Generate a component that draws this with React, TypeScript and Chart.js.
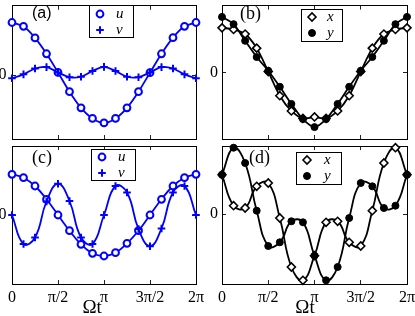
import React, { useEffect, useRef } from 'react';
import { Chart, registerables } from 'chart.js';
import { drawPoint } from 'chart.js/helpers';

Chart.register(...registerables);

// ---------- data ----------
const tValues = [0, 0.125, 0.25, 0.375, 0.5, 0.625, 0.75, 0.875, 1, 1.125, 1.25, 1.375, 1.5, 1.625, 1.75, 1.875, 2];
const xTickValues = [0, 0.5, 1, 1.5, 2];
const xTickLabels = ['0', 'π/2', 'π', '3π/2', '2π'];
const yTickValues = [0];
const yTickLabels = ['0'];
const xAxisTitle = 'Ωt';

const aU = [54.7, 50.7, 38.7, 22.3, 3, -17, -33.7, -44.7, -49.3, -44.7, -33.7, -17, 2.7, 22.3, 39, 50.7, 54.7];
const aV = [-3, 1, 7, 8.5, 3, -2, -1.5, 4.5, 8.7, 4.5, -1.5, -2, 3, 8.5, 7, 1, -3];
const bX = [46.7, 45, 40.3, 25.7, 1.5, -23.5, -39.3, -47, -45.5, -47, -39.3, -23.5, 1.5, 25.7, 40.3, 45, 46.7];
const bY = [58, 50.5, 33.3, 16.5, 2.3, -14.3, -32, -47.7, -56, -47.7, -32, -14.3, 2.3, 16.5, 33.3, 50.5, 58];
const cU = [40.7, 37.3, 29, 15.7, 0, -15.7, -29.3, -38.3, -41, -37.7, -28.3, -15.7, 0, 15.7, 29, 37.3, 40.7];
const cV = [0, -29, -22.5, 13.5, 31.3, 14, -22.5, -29, 0, 29, 22.5, -14, -31.3, -13.5, 22.5, 29, 0];
const dX = [39.3, 8.3, 6, 27.7, 31, -4, -53, -66.3, -41.7, -8.3, -7.3, -28.3, -32, 3.3, 51, 66.3, 39.3];
const dY = [39.3, 66.3, 51, 3.3, -32, -28.3, -7.3, -8.3, -41.7, -66.3, -53, -4, 31, 27.7, 6, 8.3, 39.3];

const panelLabels = ['(a)', '(b)', '(c)', '(d)'];
const seriesNamesUV = ['u', 'v'];
const seriesNamesXY = ['x', 'y'];

// ---------- styling ----------
const W = 415;
const H = 316;
const SERIF = "'Liberation Serif', 'DejaVu Serif', serif";
const SANS = "'Liberation Sans', Arial, sans-serif";
const BLUE = '#0000ff';
const BLACK = '#000000';

const panelDecor = {
  id: 'panelDecor',
  afterDraw(chart: any, _args: any, opts: any) {
    const { ctx } = chart;
    ctx.save();
    ctx.fillStyle = BLACK;
    ctx.textBaseline = 'middle';
    ctx.textAlign = 'left';
    ctx.font = opts.labelFont;
    ctx.fillText(opts.label, opts.labelX, opts.labelY);
    const b = opts.box;
    ctx.fillStyle = '#ffffff';
    ctx.fillRect(b.x, b.y, b.w, b.h);
    ctx.strokeStyle = BLACK;
    ctx.lineWidth = 1;
    ctx.strokeRect(b.x + 0.5, b.y + 0.5, b.w, b.h);
    opts.entries.forEach((idx: number, i: number) => {
      const ds = chart.data.datasets[idx];
      const ry = b.y + opts.rowY[i];
      ctx.fillStyle = ds.pointBackgroundColor;
      ctx.strokeStyle = ds.pointBorderColor;
      ctx.lineWidth = ds.pointBorderWidth;
      drawPoint(ctx, { pointStyle: ds.pointStyle, radius: ds.pointRadius, borderWidth: ds.pointBorderWidth, rotation: 0 }, b.x + opts.markerDX, ry);
      ctx.fillStyle = BLACK;
      ctx.font = opts.textFont;
      ctx.textBaseline = 'middle';
      ctx.fillText(ds.label, b.x + opts.textDX, ry);
    });
    ctx.restore();
  },
};

type Series = { label: string; values: number[]; color: string; style: string; radius: number; bw: number; fill: string; order: number };

const zeroPad = (s: any) => {
  s.paddingTop = 0;
  s.paddingBottom = 0;
  s.paddingLeft = 0;
  s.paddingRight = 0;
};

function makeChart(canvas: HTMLCanvasElement, p: any) {
  const fixTicks = (vals: number[]) => (scale: any) => {
    scale.ticks = vals.map((v) => ({ value: v }));
  };
  const grid = { display: true, drawOnChartArea: false, drawTicks: true, tickLength: -4, color: '#222', lineWidth: 1 };
  const border = { display: true, color: BLACK, width: 1 };
  const a = p.area;
  const yW = p.yAxisW;
  return new Chart(canvas, {
    type: 'line',
    data: {
      datasets: p.series.map((s: Series) => ({
        label: s.label,
        data: tValues.map((t, i) => ({ x: t, y: s.values[i] })),
        borderColor: s.color,
        borderWidth: 1.8,
        tension: p.tension,
        fill: false,
        pointStyle: s.style,
        pointRadius: s.radius,
        pointHoverRadius: s.radius,
        pointBorderWidth: s.bw,
        pointBorderColor: s.color,
        pointBackgroundColor: s.fill,
        order: s.order,
        clip: false,
      })),
    },
    options: {
      responsive: false,
      animation: false,
      devicePixelRatio: 1,
      events: [],
      layout: { padding: { left: a.l - yW, top: a.t, right: W - a.r, bottom: p.showX ? 0 : H - a.b } },
      plugins: {
        legend: { display: false },
        tooltip: { enabled: false },
        panelDecor: p.decor,
      },
      scales: {
        x: {
          type: 'linear', position: 'bottom', min: 0, max: 2,
          afterBuildTicks: fixTicks(xTickValues),
          afterFit: (s: any) => { s.height = p.showX ? H - a.b : 0; zeroPad(s); },
          grid, border,
          ticks: { display: p.showX, padding: 8, color: BLACK, autoSkip: false, maxRotation: 0, font: { family: SERIF, size: 16 }, callback: (_v: any, i: number) => xTickLabels[i] },
          title: { display: p.showX, text: p.title, color: BLACK, font: { family: SERIF, size: 19, lineHeight: 0.8 }, padding: 0 },
        },
        x2: {
          type: 'linear', position: 'top', min: 0, max: 2,
          afterBuildTicks: fixTicks(xTickValues),
          afterFit: (s: any) => { s.height = 0; zeroPad(s); },
          grid, border,
          ticks: { display: false },
        },
        y: {
          type: 'linear', position: 'left', min: p.yMin, max: p.yMax,
          afterBuildTicks: fixTicks(yTickValues),
          afterFit: (s: any) => { s.width = yW; zeroPad(s); },
          grid, border,
          ticks: { display: true, padding: p.yPad, color: BLACK, autoSkip: false, font: { family: SERIF, size: 16 }, callback: (_v: any, i: number) => yTickLabels[i] },
        },
        y2: {
          type: 'linear', position: 'right', min: p.yMin, max: p.yMax,
          afterBuildTicks: fixTicks(yTickValues),
          afterFit: (s: any) => { s.width = 0; zeroPad(s); },
          grid, border,
          ticks: { display: false },
        },
      },
    } as any,
    plugins: [panelDecor as any],
  });
}

const uSeries = (vals: number[]): Series => ({ label: seriesNamesUV[0], values: vals, color: BLUE, style: 'circle', radius: 3.4, bw: 2, fill: '#ffffff', order: 1 });
const vSeries = (vals: number[]): Series => ({ label: seriesNamesUV[1], values: vals, color: BLUE, style: 'cross', radius: 3.8, bw: 2, fill: BLUE, order: 0 });
const xSeries = (vals: number[]): Series => ({ label: seriesNamesXY[0], values: vals, color: BLACK, style: 'rectRot', radius: 4, bw: 1.6, fill: '#ffffff', order: 1 });
const ySeries = (vals: number[]): Series => ({ label: seriesNamesXY[1], values: vals, color: BLACK, style: 'circle', radius: 3.5, bw: 1, fill: BLACK, order: 0 });

const legendFont = `italic 15px ${SERIF}`;

const panels = [
  {
    area: { l: 12, t: 1, r: 196, b: 139 }, yAxisW: 12, yMin: -66, yMax: 72, yPad: 9.5, showX: false, tension: 0.3,
    series: [uSeries(aU), vSeries(aV)], title: '',
    decor: { label: panelLabels[0], labelFont: `16px ${SANS}`, labelX: 32, labelY: 14, box: { x: 89, y: 5, w: 44, h: 32 }, rowY: [9, 25], markerDX: 11, textDX: 27, textFont: legendFont, entries: [0, 1] },
  },
  {
    area: { l: 222, t: 1, r: 407, b: 139 }, yAxisW: 24, yMin: -68.3, yMax: 69.7, yPad: 8, showX: false, tension: 0.3,
    series: [xSeries(bX), ySeries(bY)], title: '',
    decor: { label: panelLabels[1], labelFont: `18px ${SERIF}`, labelX: 240, labelY: 14, box: { x: 301, y: 9, w: 41, h: 32 }, rowY: [8, 24], markerDX: 11, textDX: 26, textFont: legendFont, entries: [0, 1] },
  },
  {
    area: { l: 12, t: 146, r: 196, b: 284 }, yAxisW: 12, yMin: -69, yMax: 69, yPad: 9.5, showX: true, tension: 0.45,
    series: [uSeries(cU), vSeries(cV)], title: xAxisTitle + '     ',
    decor: { label: panelLabels[2], labelFont: `18px ${SERIF}`, labelX: 32, labelY: 158, box: { x: 91, y: 149, w: 44, h: 31 }, rowY: [8, 24], markerDX: 11, textDX: 27, textFont: legendFont, entries: [0, 1] },
  },
  {
    area: { l: 222, t: 146, r: 407, b: 284 }, yAxisW: 24, yMin: -70, yMax: 68, yPad: 8, showX: true, tension: 0.45,
    series: [xSeries(dX), ySeries(dY)], title: xAxisTitle + '    ',
    decor: { label: panelLabels[3], labelFont: `18px ${SERIF}`, labelX: 249, labelY: 158, box: { x: 296, y: 152, w: 45, h: 32 }, rowY: [8, 24], markerDX: 11, textDX: 28, textFont: legendFont, entries: [0, 1] },
  },
];

function Panel({ cfg }: { cfg: any }) {
  const ref = useRef<HTMLCanvasElement | null>(null);
  useEffect(() => {
    if (!ref.current) return;
    const chart = makeChart(ref.current, cfg);
    return () => chart.destroy();
  }, [cfg]);
  return <canvas ref={ref} width={W} height={H} style={{ position: 'absolute', left: 0, top: 0, width: W, height: H }} />;
}

export default function App() {
  return (
    <div style={{ position: 'fixed', left: 0, top: 0, width: W, height: H, background: '#ffffff', overflow: 'hidden' }}>
      {panels.map((p, i) => (
        <Panel key={i} cfg={p} />
      ))}
    </div>
  );
}
